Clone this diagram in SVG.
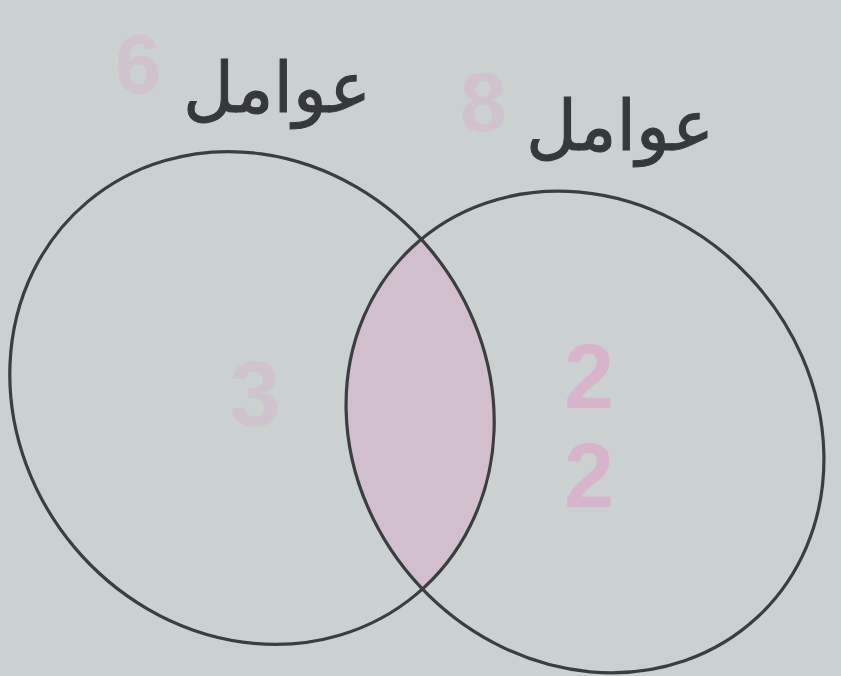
<svg xmlns="http://www.w3.org/2000/svg" width="841" height="676" viewBox="0 0 841 676">
  <style>
    .set { fill: none; stroke: #3b3e41; stroke-width: 3.2; }
    .lbl { font-family: "DejaVu Sans", "Noto Sans", sans-serif; font-size: 70px; fill: #36393c; stroke: #36393c; stroke-width: 1; }
    .num { font-family: "Liberation Sans", Arial, sans-serif; font-weight: bold; fill: #d7b3cc; }
  </style>
  <defs>
    <clipPath id="clipLeft">
      <ellipse cx="252" cy="398" rx="256" ry="232" transform="rotate(50 252 398)"/>
    </clipPath>
  </defs>
  <rect x="0" y="0" width="841" height="676" fill="#cbd1d1"/>
  <g id="intersection" clip-path="url(#clipLeft)">
    <ellipse cx="585" cy="432" rx="253" ry="226" transform="rotate(47 585 432)" fill="#d2bfcd"/>
  </g>
  <g id="set-left">
    <ellipse class="set" cx="252" cy="398" rx="256" ry="232" transform="rotate(50 252 398)"/>
    <text class="lbl" x="277" y="112" text-anchor="middle" direction="rtl">عوامل</text>
    <text class="num" x="138" y="93" font-size="84" text-anchor="middle" opacity="0.45">6</text>
    <text class="num" x="255" y="426" font-size="92" text-anchor="middle" opacity="0.4">3</text>
  </g>
  <g id="set-right">
    <ellipse class="set" cx="585" cy="432" rx="253" ry="226" transform="rotate(47 585 432)"/>
    <text class="lbl" x="620" y="150" text-anchor="middle" direction="rtl">عوامل</text>
    <text class="num" x="483" y="131" font-size="84" text-anchor="middle" opacity="0.45">8</text>
    <text class="num" x="589" y="408" font-size="90" text-anchor="middle">2</text>
    <text class="num" x="589" y="507" font-size="90" text-anchor="middle">2</text>
  </g>
  <g id="connectors"/>
</svg>
